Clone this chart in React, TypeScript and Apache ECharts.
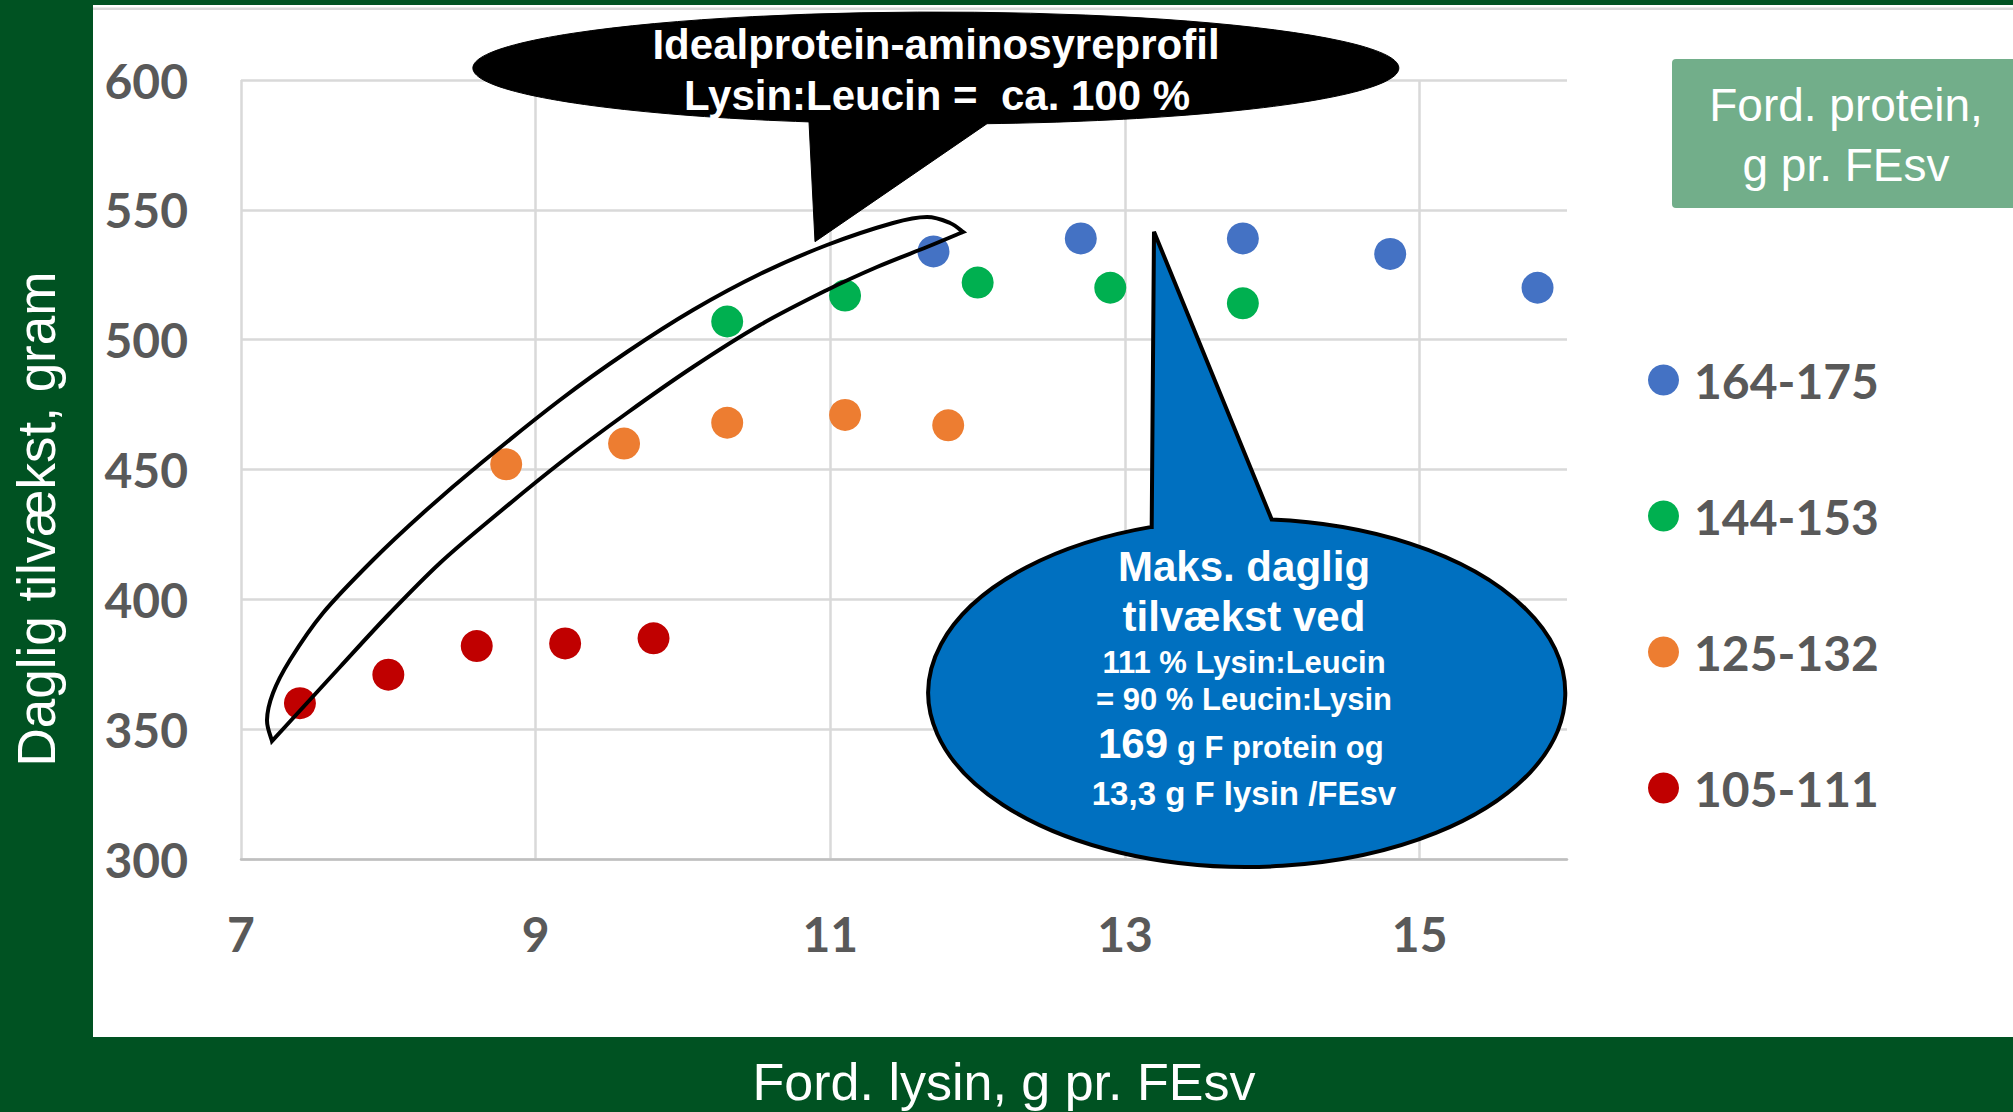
import React, { useEffect, useRef } from 'react';
import * as echarts from 'echarts';

// ---- data ----
const categories = ['164-175', '144-153', '125-132', '105-111'];
const colors = ['#4472C4', '#00B050', '#ED7D31', '#C00000'];
const blueX = [11.7, 12.7, 13.8, 14.8, 15.8];
const blueY = [534, 539, 539, 533, 520];
const greenX = [10.3, 11.1, 12.0, 12.9, 13.8];
const greenY = [507, 517, 522, 520, 514];
const orangeX = [8.8, 9.6, 10.3, 11.1, 11.8];
const orangeY = [452, 460, 468, 471, 467];
const redX = [7.4, 8.0, 8.6, 9.2, 9.8];
const redY = [360, 371, 382, 383, 385];
const xTickLabels = [7, 9, 11, 13, 15];
const yTickLabels = [300, 350, 400, 450, 500, 550, 600];

// ---- annotation shapes (page geometry) ----
const outerEdge = [
  [272, 741], [267, 720], [273, 693], [290, 660], [323, 613], [373, 560], [423, 513],
  [480, 464], [560, 400], [627, 352], [693, 310], [760, 274], [827, 245],
  [893, 223], [927, 217], [950, 223], [963, 232],
];
const innerEdge = [
  [963, 232], [927, 247], [877, 267], [827, 290], [760, 325], [693, 367], [627, 413],
  [560, 463], [490, 520], [440, 563], [390, 613], [340, 667], [307, 703], [272, 741],
];

function catmull(pts: number[][]): string {
  let d = '';
  for (let i = 0; i < pts.length - 1; i++) {
    const p0 = pts[i - 1] || pts[i];
    const p1 = pts[i];
    const p2 = pts[i + 1];
    const p3 = pts[i + 2] || p2;
    const c1x = p1[0] + (p2[0] - p0[0]) / 6;
    const c1y = p1[1] + (p2[1] - p0[1]) / 6;
    const c2x = p2[0] - (p3[0] - p1[0]) / 6;
    const c2y = p2[1] - (p3[1] - p1[1]) / 6;
    d += ` C ${c1x.toFixed(1)} ${c1y.toFixed(1)} ${c2x.toFixed(1)} ${c2y.toFixed(1)} ${p2[0]} ${p2[1]}`;
  }
  return d;
}

const bananaD = `M ${outerEdge[0][0]} ${outerEdge[0][1]}` + catmull(outerEdge) + catmull(innerEdge) + ' Z';
const blackCalloutD = 'M 987 123.7 L 815 241.7 L 809 121.9 A 463 56 0 1 1 987 123.7 Z';
const blueCalloutD = 'M 1151.7 526.9 L 1154 231.7 L 1271.7 519.5 A 318.5 174 0 1 1 1151.7 526.9 Z';

let registered = false;
function registerShapes() {
  if (registered) return;
  registered = true;
  echarts.graphic.registerShape('bananaShape', echarts.graphic.extendPath(bananaD, {}));
  echarts.graphic.registerShape('blackCallout', echarts.graphic.extendPath(blackCalloutD, {}));
  echarts.graphic.registerShape('blueCallout', echarts.graphic.extendPath(blueCalloutD, {}));
}

const GREEN = '#005222';
const SANS = '"Liberation Sans", Arial, sans-serif';
const LABEL_FONT = 'Lato, "Liberation Sans", sans-serif';

function txt(text: string, x: number, y: number, size: number, opts: any = {}) {
  const align = opts.align || 'center';
  return {
    type: 'text',
    x,
    y,
    rotation: opts.rotation || 0,
    z: opts.z || 110,
    style: {
      text,
      fill: opts.fill || '#ffffff',
      fontSize: size,
      fontFamily: opts.family || SANS,
      fontWeight: opts.weight || 'normal',
      align,
      textAlign: align,
      verticalAlign: 'middle',
      textVerticalAlign: 'middle',
      lineHeight: opts.lineHeight,
    },
  };
}

const zip = (xs: number[], ys: number[]) => xs.map((x, i) => [x, ys[i]]);

export default function App() {
  const ref = useRef<HTMLDivElement>(null);
  useEffect(() => {
    registerShapes();
    const chart = echarts.init(ref.current!, undefined, { renderer: 'svg' });
    const seriesData = [zip(blueX, blueY), zip(greenX, greenY), zip(orangeX, orangeY), zip(redX, redY)];
    const option: any = {
      animation: false,
      backgroundColor: '#ffffff',
      grid: { left: 241, right: 446, top: 80, bottom: 253, containLabel: false },
      xAxis: {
        type: 'value',
        min: 7,
        max: 16,
        interval: 1,
        axisLine: { show: true, lineStyle: { color: '#bfbfbf', width: 2.5 } },
        axisTick: { show: false },
        axisLabel: {
          interval: 0,
          formatter: (v: number) => (xTickLabels.indexOf(v) >= 0 ? String(v) : ''),
          fontFamily: LABEL_FONT,
          fontWeight: 'bold',
          fontSize: 48,
          lineHeight: 48,
          color: '#595959',
          margin: 50,
        },
        splitLine: { show: true, lineStyle: { color: ['#d9d9d9', 'rgba(0,0,0,0)'], width: 2.5 } },
      },
      yAxis: {
        type: 'value',
        min: 300,
        max: 600,
        interval: 50,
        axisLine: { show: false },
        axisTick: { show: false },
        axisLabel: {
          interval: 0,
          formatter: (v: number) => (yTickLabels.indexOf(v) >= 0 ? String(v) : ''),
          fontFamily: LABEL_FONT,
          fontWeight: 'bold',
          fontSize: 48,
          color: '#595959',
          margin: 53,
        },
        splitLine: { show: true, lineStyle: { color: '#d9d9d9', width: 2.5 } },
      },
      legend: {
        data: categories,
        orient: 'vertical',
        left: 1648,
        top: 355,
        padding: 0,
        itemWidth: 31,
        itemHeight: 31,
        itemGap: 86,
        icon: 'circle',
        selectedMode: false,
        textStyle: {
          fontFamily: LABEL_FONT,
          fontWeight: 'bold',
          fontSize: 48,
          lineHeight: 50,
          color: '#595959',
          padding: [0, 0, 0, 10],
        },
      },
      series: categories.map((name, i) => ({
        type: 'scatter',
        name,
        symbol: 'circle',
        symbolSize: 32,
        itemStyle: { color: colors[i], opacity: 1 },
        data: seriesData[i],
      })),
      graphic: {
        elements: [
          { type: 'rect', z: -1, shape: { x: 0, y: 0, width: 93, height: 1112 }, style: { fill: GREEN } },
          { type: 'rect', z: -1, shape: { x: 0, y: 0, width: 2013, height: 5 }, style: { fill: GREEN } },
          { type: 'rect', z: -1, shape: { x: 0, y: 1037, width: 2013, height: 75 }, style: { fill: GREEN } },
          { type: 'line', z: -1, shape: { x1: 93, y1: 8.7, x2: 2013, y2: 8.7 }, style: { stroke: '#d9d9d9', lineWidth: 2.5 } },
          txt('Daglig tilvækst, gram', 36, 519, 53, { rotation: Math.PI / 2 }),
          txt('Ford. lysin, g pr. FEsv', 1004, 1082, 52),
          { type: 'rect', z: 5, shape: { x: 1672, y: 59, width: 345, height: 149, r: 4 }, style: { fill: '#72AE8A' } },
          txt('Ford. protein,\ng pr. FEsv', 1846, 135, 46, { lineHeight: 60 }),
          { type: 'bananaShape', x: 0, y: 0, z: 100, style: { fill: 'none', stroke: '#000000', lineWidth: 4, lineJoin: 'miter' } },
          { type: 'blackCallout', x: 0, y: 0, z: 101, style: { fill: '#000000', stroke: '#000000', lineWidth: 1 } },
          txt('Idealprotein-aminosyreprofil', 936, 44, 42, { weight: 'bold' }),
          txt('Lysin:Leucin =  ca. 100 %', 937, 95, 42, { weight: 'bold' }),
          { type: 'blueCallout', x: 0, y: 0, z: 101, style: { fill: '#0070C0', stroke: '#000000', lineWidth: 4, lineJoin: 'miter' } },
          txt('Maks. daglig', 1244, 566, 42, { weight: 'bold' }),
          txt('tilvækst ved', 1244, 616, 42, { weight: 'bold' }),
          txt('111 % Lysin:Leucin', 1244, 662, 31, { weight: 'bold' }),
          txt('= 90 % Leucin:Lysin', 1244, 699, 31, { weight: 'bold' }),
          txt('169', 1168, 743, 42, { weight: 'bold', align: 'right' }),
          txt('g F protein og', 1177, 747, 31, { weight: 'bold', align: 'left' }),
          txt('13,3 g F lysin /FEsv', 1244, 793, 33, { weight: 'bold' }),
        ],
      },
    };
    chart.setOption(option);
    return () => chart.dispose();
  }, []);
  return (
    <div
      ref={ref}
      style={{ position: 'fixed', left: 0, top: 0, width: 2013, height: 1112 }}
    />
  );
}
